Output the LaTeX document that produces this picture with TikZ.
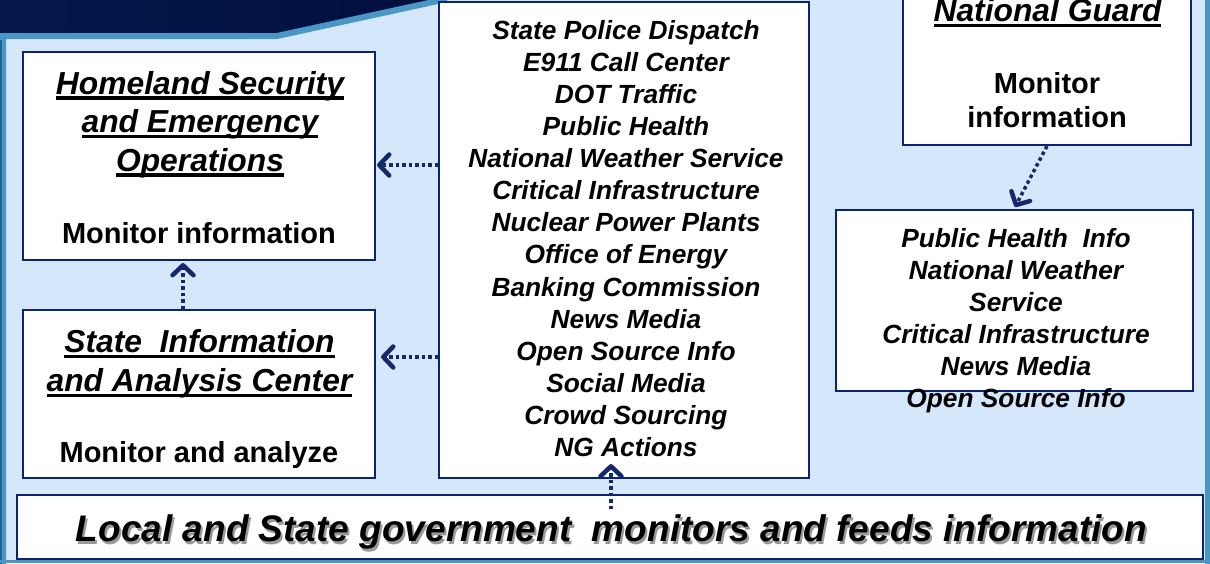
\documentclass[tikz,border=0pt]{standalone}
\usepackage{fontspec}
\setmainfont{Liberation Sans}
\usetikzlibrary{arrows.meta}
\definecolor{navyL}{HTML}{04184C}
\definecolor{navyR}{HTML}{000E3D}
\definecolor{stripe}{HTML}{4A96C4}
\definecolor{stripeD}{HTML}{1E6690}
\definecolor{bgblue}{HTML}{D5E8FB}
\definecolor{boxline}{HTML}{0A2470}
\definecolor{arrowc}{HTML}{14286E}
\newcommand\ulx[1]{\setbox0=\hbox{#1}\leavevmode\rlap{\rule[-0.17em]{\wd0}{0.1em}}\box0}
\begin{document}
\begin{tikzpicture}[x=1pt,y=-1pt,
  box/.style={draw=boxline, line width=2pt, fill=white, inner sep=0pt, rectangle},
  flow/.style={draw=arrowc, line width=3.5pt, dash pattern=on 3.5pt off 3pt,
    -{Straight Barb[length=10pt,width=21pt,line width=4.5pt,round]}},
  ttl/.style={font=\fontsize{31.8}{38.5}\selectfont\bfseries\itshape, align=center, inner sep=0pt},
  mon/.style={font=\fontsize{29}{34}\selectfont\bfseries, align=center, inner sep=0pt},
  lst/.style={font=\fontsize{26.3}{32.1}\selectfont\bfseries\itshape, align=center, inner sep=0pt},
  big/.style={font=\fontsize{37}{44}\selectfont\bfseries\itshape, inner sep=0pt}]
\useasboundingbox (0,0) rectangle (1210,563);
\clip (0,0) rectangle (1210,563);
% background
\fill[bgblue] (0,0) rectangle (1210,563);
\shade[left color=navyL, right color=navyR] (0,-1) -- (450,-1) -- (277,34) -- (0,34) -- cycle;
\draw[stripe, line width=6pt] (3,570) -- (3,36) -- (277,36) -- (447,-1);
\draw[stripeD, line width=2pt] (1,570) -- (1,40);
\draw[stripe, line width=5pt] (1207.5,-2) -- (1207.5,570);
\draw[stripe, line width=3pt] (-2,561.5) -- (1212,561.5);
% boxes
\node[box, minimum width=352pt, minimum height=208pt] (hs) at (199,156) {};
\node[box, minimum width=352pt, minimum height=168pt] (st) at (199,394) {};
\node[box, minimum width=370pt, minimum height=476pt] (cl) at (624,240) {};
\node[box, minimum width=288pt, minimum height=185pt] (ng) at (1047,52.5) {};
\node[box, minimum width=357pt, minimum height=181pt] (rl) at (1014.5,300.5) {};
\node[box, minimum width=1186pt, minimum height=64pt] (bb) at (610,527) {};
% texts
\node[ttl] (hst) at (200,124.5) {\ulx{Homeland Security}\\\ulx{and Emergency}\\\ulx{Operations}};
\node[mon] (hsm) at (199,233) {Monitor information};
\node[ttl] (stt) at (199.5,364) {\ulx{State\ \ Information}\\\ulx{and Analysis Center}};
\node[mon] (stm) at (199,455) {Monitor and analyze};
\node[lst] (clt) at (626,238.5) {State Police Dispatch\\E911 Call Center\\DOT Traffic\\Public Health\\National Weather Service\\Critical Infrastructure\\Nuclear Power Plants\\Office of Energy\\Banking Commission\\News Media\\Open Source Info\\Social Media\\Crowd Sourcing\\NG Actions};
\node[ttl] (ngt) at (1047.5,13) {\ulx{National Guard}};
\node[mon] (ngm) at (1047,100) {Monitor\\information};
\node[lst] (rlt) at (1016,320.5) {Public Health\ \ Info\\National Weather\\Service\\Critical Infrastructure\\News Media\\Open Source Info};
\node[big, text=black!40] (bts) at (613.5,534.5) {Local and State government\ \ monitors and feeds information};
\node[big] (bt) at (611.5,532) {Local and State government\ \ monitors and feeds information};
% connectors
\draw[flow, shorten >=1pt] ([yshift=75pt]cl.west) -- ([yshift=-9pt]hs.east);
\draw[flow, shorten >=5pt] ([yshift=-117pt]cl.west) -- ([yshift=37pt]st.east);
\draw[flow, shorten >=2pt] ([xshift=-16pt]st.north) -- ([xshift=-16pt]hs.south);
\draw[flow] (ng.south) -- ([xshift=0.5pt,yshift=2pt]rl.north);
\draw[flow] ([xshift=1pt,yshift=-15pt]bb.north) -- ([xshift=-13pt,yshift=15pt]cl.south);
\end{tikzpicture}
\end{document}
